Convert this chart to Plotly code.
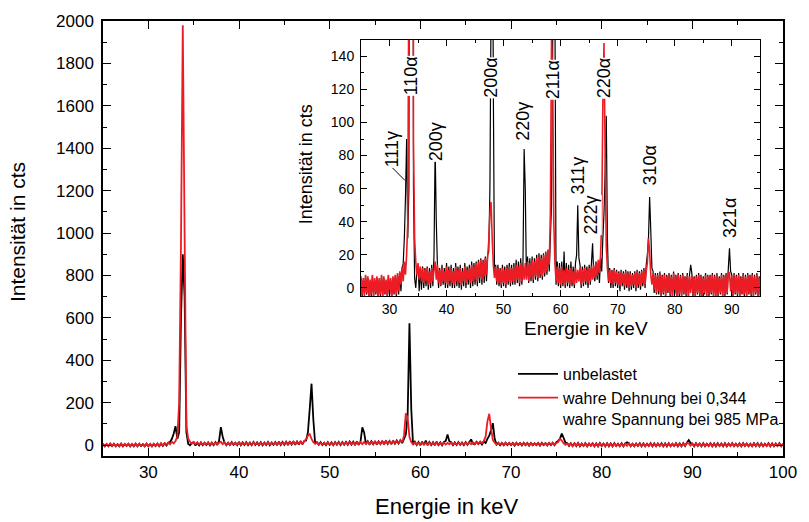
import plotly.graph_objects as go

# ---------------- data ----------------
E_START, E_STEP = 25.0, 0.2   # energy sampling of the spectra in keV

# unbelastet (black), counts, 5 samples per keV from 25.0 to 100.0 keV
unbelastet = [
    6, -5, 5, -4, 7,   -4, 6, -5, 4, -5,   7, -5, 5, -4, 6,   -5, 5, -5, 7, -5,       # 25-28
    6, -4, 4, -5, 7,   -5, 5, -5, 6, -4,   7, -5, 8, -4, 9,   -2, 10, 15, 30, 55,     # 29-32
    90, 30, 60, 600, 900,   700, 60, 6, 0, 10,   14, -2, 12, -1, 13,   0, 12, 1, 13, -1,  # 33-36
    12, 0, 14, 1, 20,   85, 40, 13, 0, 12,   1, 14, 2, 12, 0,   15, 0, 13, 1, 14,     # 37-40
    0, 12, 0, 15, 1,   13, 0, 14, -1, 12,   1, 15, 0, 13, 2,   14, 0, 16, 1, 15,      # 41-44
    2, 16, 1, 17, 3,   18, 2, 17, 3, 19,   4, 20, 22, 60, 170,   290, 120, 8, 14, 2,  # 45-48
    14, 1, 12, 0, 14,   1, 13, 0, 14, 2,   15, 1, 14, 2, 15,   2, 17, 3, 16, 1,       # 49-52
    18, 2, 16, 84, 60,   6, 19, 3, 18, 4,   19, 3, 18, 5, 20,   4, 21, 6, 20, 5,      # 53-56
    21, 7, 22, 8, 23,   10, 30, 50, 140, 575,   170, 2, 16, 1, 15,   0, 16, 1, 22, 0,  # 57-60
    15, 1, 14, 0, 16,   1, 13, 0, 15, 20,   50, 18, 14, 0, 13,   1, 14, 2, 13, 0,     # 61-64
    14, 2, 15, 27, 8,   4, 16, 5, 15, 3,   18, 10, 30, 45, 70,   104, 30, 3, 12, 0,   # 65-68
    11, 0, 12, 1, 11,   0, 10, -2, 11, 1,   10, -1, 11, 0, 10,   -2, 10, -1, 9, 0,    # 69-72
    10, -2, 11, 0, 10,   -1, 11, 1, 12, 0,   14, 20, 30, 55, 35,   12, 10, -3, 9, -4,  # 73-76
    9, -4, 10, -5, 8,   -4, 9, -5, 8, -3,   9, -5, 8, -5, 10,   -4, 8, -5, 9, -5,     # 77-80
    8, -5, 9, -4, 7,   -5, 9, -5, 8, 14,   9, -5, 7, -5, 8,   -4, 9, -5, 8, -5,       # 81-84
    7, -4, 9, -5, 8,   -5, 8, -4, 9, -5,   8, -5, 9, -5, 7,   -4, 9, -5, 8, -5,       # 85-88
    9, -4, 12, 24, 10,   8, -5, 9, -4, 8,   -5, 9, -5, 7, -4,   9, -5, 8, -5, 9,      # 89-92
    -4, 8, -5, 9, -5,   8, -4, 9, -5, 7,   -5, 8, -5, 9, -4,   8, -5, 7, -5, 9,       # 93-96
    -4, 9, -5, 8, -5,   7, -4, 9, -5, 8,   -5, 8, -4, 9, -5,   7,                     # 97-100
]

# wahre Dehnung 0,344 / wahre Spannung 985 MPa (red), same sampling
belastet = [
    7, -4, 6, -5, 8,   -3, 7, -5, 5, -4,   8, -5, 6, -3, 7,   -5, 6, -4, 8, -5,       # 25-28
    7, -3, 5, -5, 8,   -4, 6, -5, 7, -3,   8, -4, 9, -2, 10,   2, 13, 4, 16, 8,       # 29-32
    20, 40, 200, 950, 1980,   1000, 90, 30, 16, 8,   15, 5, 13, 4, 12,   3, 11, 4, 12, 2,  # 33-36
    10, 3, 12, 4, 11,   16, 5, 14, 3, 11,   2, 12, 4, 10, 3,   13, 2, 11, 4, 12,      # 37-40
    3, 10, 2, 13, 4,   11, 3, 12, 2, 10,   4, 13, 3, 11, 5,   12, 3, 14, 4, 13,       # 41-44
    5, 15, 4, 16, 6,   17, 5, 16, 7, 18,   8, 19, 28, 45, 52,   30, 14, 6, 13, 4,     # 45-48
    12, 3, 11, 2, 12,   3, 11, 2, 12, 4,   13, 3, 12, 4, 13,   4, 14, 5, 13, 3,       # 49-52
    15, 4, 14, 5, 15,   5, 16, 4, 15, 6,   17, 5, 16, 7, 18,   6, 19, 8, 18, 7,       # 53-56
    20, 9, 21, 10, 23,   14, 45, 150, 130, 40,   15, 4, 13, 3, 12,   2, 13, 3, 11, 2,  # 57-60
    12, 3, 11, 2, 12,   3, 10, 2, 12, 3,   11, 4, 12, 2, 11,   3, 12, 4, 11, 3,       # 61-64
    12, 4, 13, 5, 14,   6, 15, 7, 17, 9,   20, 40, 112, 148, 80,   25, 12, 4, 11, 3,  # 65-68
    10, 2, 11, 3, 10,   2, 9, 1, 10, 3,   9, 1, 10, 2, 9,   0, 9, 1, 8, 2,            # 69-72
    9, 0, 10, 2, 9,   1, 10, 3, 11, 2,   10, 15, 30, 22, 8,   2, 9, -1, 8, -3,        # 73-76
    8, -2, 9, -4, 7,   -3, 8, -5, 7, -2,   8, -4, 7, -5, 9,   -3, 7, -5, 8, -4,       # 77-80
    7, -5, 8, -3, 6,   -4, 8, -5, 7, -3,   8, -4, 6, -5, 7,   -3, 8, -4, 7, -5,       # 81-84
    6, -3, 8, -5, 7,   -4, 7, -3, 8, -5,   7, -5, 8, -4, 6,   -3, 8, -5, 7, -4,       # 85-88
    8, -3, 10, 9, -2,   7, -5, 8, -3, 7,   -4, 8, -5, 6, -3,   8, -4, 7, -5, 8,       # 89-92
    -3, 7, -4, 8, -5,   7, -3, 8, -4, 6,   -4, 7, -5, 8, -3,   7, -4, 6, -5, 8,       # 93-96
    -3, 8, -4, 7, -5,   6, -3, 8, -4, 7,   -5, 7, -3, 8, -4,   6,                     # 97-100
]

assert len(unbelastet) == len(belastet) == 376
energie = [round(E_START + E_STEP * i, 1) for i in range(len(unbelastet))]

# reflection labels of the inset
reflexe = ["111γ", "110α", "200γ", "200α", "220γ", "211α",
           "311γ", "222γ", "220α", "310α", "321α"]
reflex_e = [30.5, 33.8, 38.15, 47.8, 53.4, 58.8, 63.06, 65.4, 67.5, 75.5, 89.8]
reflex_i = [84, 128, 88, 127, 101, 126, 68, 44, 127, 74, 42]

name_black = "unbelastet"
name_red = "wahre Dehnung bei 0,344<br>wahre Spannung bei 985 MPa"

# ---------------- figure ----------------
FONT = "Liberation Sans, Arial, sans-serif"
BLACK = "#000000"
RED = "#ED1C24"

fig = go.Figure()
# main plot
fig.add_trace(go.Scatter(x=energie, y=unbelastet, mode="lines", name=name_black,
                         line=dict(color=BLACK, width=1.8, simplify=False),
                         xaxis="x", yaxis="y"))
fig.add_trace(go.Scatter(x=energie, y=belastet, mode="lines", name=name_red,
                         line=dict(color=RED, width=1.8, simplify=False),
                         xaxis="x", yaxis="y"))
# inset
fig.add_trace(go.Scatter(x=energie, y=unbelastet, mode="lines", showlegend=False,
                         line=dict(color=BLACK, width=1.2, simplify=False),
                         xaxis="x2", yaxis="y2"))
fig.add_trace(go.Scatter(x=energie, y=belastet, mode="lines", showlegend=False,
                         line=dict(color=RED, width=1.6, simplify=False),
                         xaxis="x2", yaxis="y2"))


def ax(rng, dtick, mdtick, tlen, mlen, fsize, lw, domain, anchor, standoff):
    return dict(range=rng, dtick=dtick, tick0=0, ticks="inside", ticklen=tlen,
                tickwidth=1, tickcolor=BLACK, showline=True, linecolor=BLACK,
                linewidth=lw, mirror="ticks", showgrid=False, zeroline=False,
                tickfont=dict(family=FONT, size=fsize, color=BLACK),
                minor=dict(dtick=mdtick, ticks="inside", ticklen=mlen,
                           tickcolor=BLACK, tickwidth=1, showgrid=False),
                domain=domain, anchor=anchor, ticklabelstandoff=standoff)


fig.update_layout(
    width=809, height=522,
    margin=dict(l=103, r=18, t=15, b=66),
    paper_bgcolor="white", plot_bgcolor="white",
    font=dict(family=FONT, color=BLACK),
    xaxis=ax([25, 100], 10, 5, 8, 4, 17, 1.5, [0, 1], "y", 0),
    yaxis=ax([-51, 2000], 200, 100, 8, 4, 17, 1.5, [0, 1], "x", 4),
    xaxis2=ax([25, 95], 10, 5, 6, 3, 14, 1, [0.3794, 0.9666], "y2", 0),
    yaxis2=ax([-5, 150], 20, 10, 6, 3, 14, 1, [0.3673, 0.9569], "x2", 3),
    showlegend=True,
    legend=dict(x=0.603, y=0.2276, xanchor="left", yanchor="top",
                bgcolor="rgba(255,255,255,0)", borderwidth=0,
                font=dict(family=FONT, size=16, color=BLACK),
                valign="top", tracegroupgap=0, itemwidth=40),
)

annotations = [
    dict(text="Energie in keV", x=0.5058, y=-0.1156, xref="paper", yref="paper",
         showarrow=False, font=dict(size=22), xanchor="center", yanchor="middle"),
    dict(text="Intensität in cts", x=-0.1265, y=0.5147, xref="paper", yref="paper",
         showarrow=False, font=dict(size=21), textangle=-90,
         xanchor="center", yanchor="middle"),
    dict(text="Energie in keV", x=0.71, y=0.2925, xref="paper", yref="paper",
         showarrow=False, font=dict(size=19), xanchor="center", yanchor="middle"),
    dict(text="Intensität in cts", x=0.298, y=0.670, xref="paper", yref="paper",
         showarrow=False, font=dict(size=18), textangle=-90,
         xanchor="center", yanchor="middle"),
]
for lab, ex, iy in zip(reflexe, reflex_e, reflex_i):
    annotations.append(dict(text=lab, x=ex, y=iy, xref="x2", yref="y2",
                            showarrow=False, textangle=-90, bgcolor="white",
                            borderpad=0, font=dict(size=18),
                            xanchor="center", yanchor="middle"))
fig.update_layout(annotations=annotations)

# leader line for 111γ
fig.add_shape(type="line", xref="x2", yref="y2", x0=30.4, y0=73, x1=32.7, y1=65,
              line=dict(color=BLACK, width=1))

fig.write_html("out.html", config={"displayModeBar": False},
               post_script="document.body.style.margin='0px';")
